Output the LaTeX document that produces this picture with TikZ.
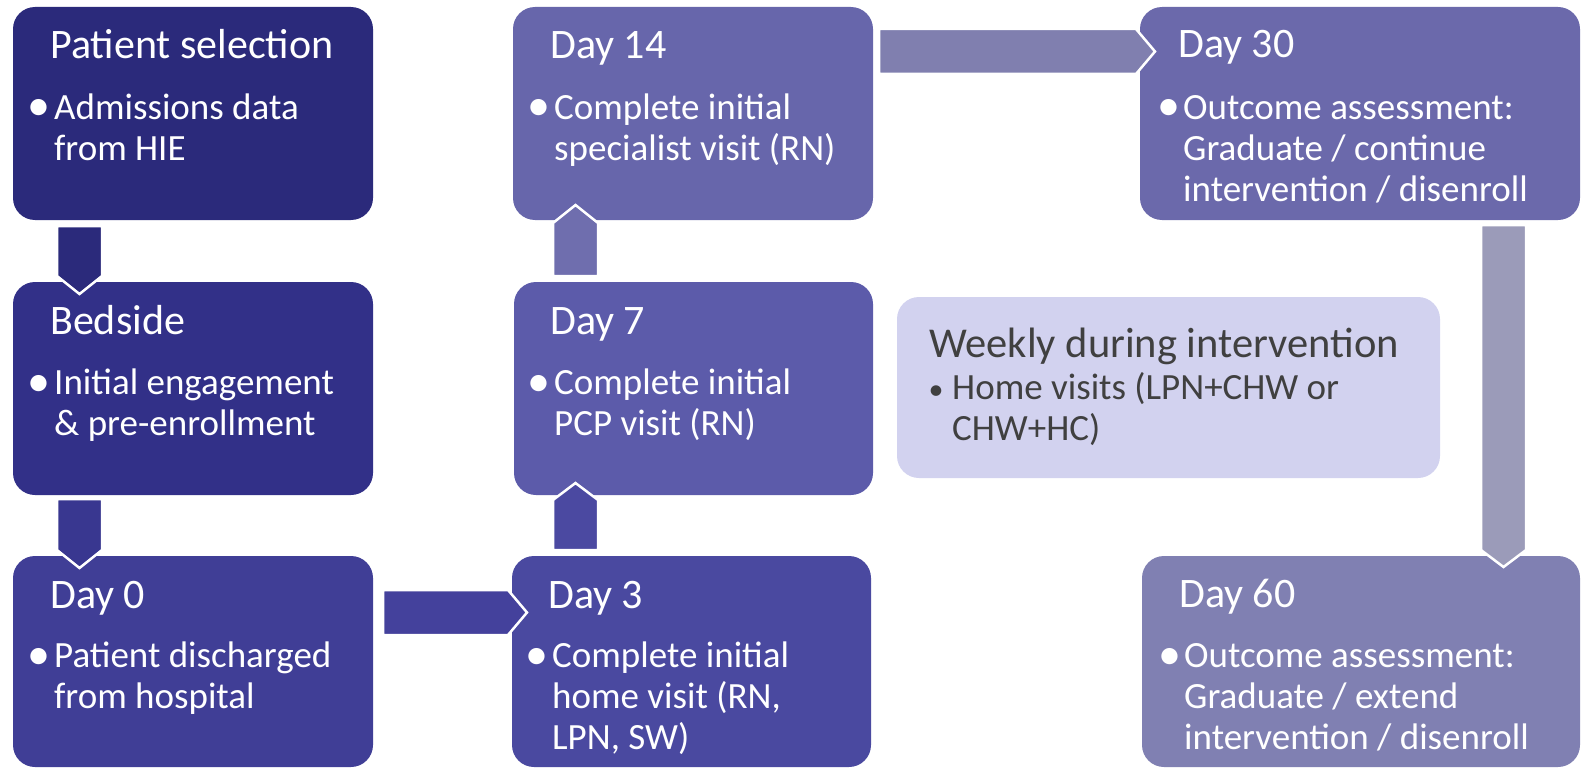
\documentclass[tikz,border=0pt]{standalone}
\usepackage{fontspec}
\setmainfont{Carlito}
\usetikzlibrary{calc}
\definecolor{cps}{HTML}{2B2A7B}
\definecolor{cbed}{HTML}{323088}
\definecolor{cdz}{HTML}{403E96}
\definecolor{cdt}{HTML}{4A49A0}
\definecolor{cds}{HTML}{5C5BAA}
\definecolor{cdf}{HTML}{6766AB}
\definecolor{cdth}{HTML}{6B69AB}
\definecolor{cdsx}{HTML}{8080B2}
\definecolor{cwk}{HTML}{D2D2EF}
\definecolor{cwt}{HTML}{404040}
\definecolor{aone}{HTML}{2B2A7B}
\definecolor{atwo}{HTML}{393790}
\definecolor{athree}{HTML}{44419C}
\definecolor{afour}{HTML}{4B49A1}
\definecolor{afive}{HTML}{6F6EAE}
\definecolor{asix}{HTML}{807FAF}
\definecolor{aseven}{HTML}{9B9BB9}
\tikzset{
  stepbox/.style={rectangle, rounded corners=22pt, inner sep=0pt, outer sep=0pt, draw=none},
  ttl/.style={anchor=base west, inner sep=0pt, text=white, font=\fontsize{42}{50}\selectfont},
  bul/.style={anchor=base west, inner sep=0pt, text=white, font=\fontsize{37}{41}\selectfont},
  dot/.style={anchor=base, inner sep=0pt, text=white, font=\fontsize{46}{50}\selectfont},
  blk/.style={draw=white, line width=2.5pt, line join=miter},
}
\newcommand\lines[1]{\parbox[t]{420pt}{\raggedright #1}}
\begin{document}
\begin{tikzpicture}[x=1pt,y=-1pt]
\useasboundingbox (0,0) rectangle (1583,768);
% boxes
\node[stepbox, fill=cps, minimum width=360pt, minimum height=213pt] (ps) at (193,113.5) {};
\node[stepbox, fill=cbed, minimum width=360pt, minimum height=213pt] (bed) at (193,388.5) {};
\node[stepbox, fill=cdz, minimum width=360pt, minimum height=211pt] (dz) at (193,661.5) {};
\node[stepbox, fill=cdt, minimum width=359pt, minimum height=211pt] (dt) at (691.5,661.5) {};
\node[stepbox, fill=cds, minimum width=359pt, minimum height=213pt] (ds) at (693.5,388.5) {};
\node[stepbox, fill=cdf, minimum width=360pt, minimum height=213pt] (df) at (693,113.5) {};
\node[stepbox, fill=cdth, minimum width=440pt, minimum height=213pt] (dth) at (1360,113.5) {};
\node[stepbox, fill=cdsx, minimum width=438pt, minimum height=211pt] (dsx) at (1361,661.5) {};
\node[stepbox, fill=cwk, minimum width=543pt, minimum height=181pt] (wk) at (1168.5,387.5) {};
% texts
\node[ttl] (psT) at ($(ps.north west)+(37,52)$) {Patient selection};
\node[dot] (psD) at ($(ps.north west)+(26,114)$) {•};
\node[bul] (psB) at ($(ps.north west)+(41,112)$) {\lines{Admissions data\\from HIE}};
\node[ttl] (bedT) at ($(bed.north west)+(37,52)$) {Bedside};
\node[dot] (bedD) at ($(bed.north west)+(26,114)$) {•};
\node[bul] (bedB) at ($(bed.north west)+(41,112)$) {\lines{Initial engagement\\\&~pre-enrollment}};
\node[ttl] (dzT) at ($(dz.north west)+(37,52)$) {Day 0};
\node[dot] (dzD) at ($(dz.north west)+(26,113)$) {•};
\node[bul] (dzB) at ($(dz.north west)+(41,111)$) {\lines{Patient discharged\\from hospital}};
\node[ttl] (dtT) at ($(dt.north west)+(36,52)$) {Day 3};
\node[dot] (dtD) at ($(dt.north west)+(25,113)$) {•};
\node[bul] (dtB) at ($(dt.north west)+(40,111)$) {\lines{Complete initial\\home visit (RN,\\LPN, SW)}};
\node[ttl] (dsT) at ($(ds.north west)+(36,52)$) {Day 7};
\node[dot] (dsD) at ($(ds.north west)+(25,114)$) {•};
\node[bul] (dsB) at ($(ds.north west)+(40,112)$) {\lines{Complete initial\\PCP visit (RN)}};
\node[ttl] (dfT) at ($(df.north west)+(37,52)$) {Day 14};
\node[dot] (dfD) at ($(df.north west)+(26,114)$) {•};
\node[bul] (dfB) at ($(df.north west)+(41,112)$) {\lines{Complete initial\\specialist visit (RN)}};
\node[ttl] (dthT) at ($(dth.north west)+(38,51)$) {Day 30};
\node[dot] (dthD) at ($(dth.north west)+(29,114)$) {•};
\node[bul] (dthB) at ($(dth.north west)+(43,112)$) {\lines{Outcome assessment:\\Graduate / continue\\intervention / disenroll}};
\node[ttl] (dsxT) at ($(dsx.north west)+(37,51)$) {Day 60};
\node[dot] (dsxD) at ($(dsx.north west)+(28,113)$) {•};
\node[bul] (dsxB) at ($(dsx.north west)+(42,111)$) {\lines{Outcome assessment:\\Graduate / extend\\intervention / disenroll}};
\node[ttl, text=cwt, font=\fontsize{42.5}{50}\selectfont] (wkT) at ($(wk.north west)+(32,60)$) {Weekly during intervention};
\node[dot, text=cwt, font=\fontsize{30}{40}\selectfont] (wkD) at ($(wk.north west)+(39,102)$) {•};
\node[bul, text=cwt] (wkB) at ($(wk.north west)+(55,102)$) {\lines{Home visits (LPN+CHW or\\CHW+HC)}};
% block arrows
\filldraw[blk, fill=aone] ($(ps.south west)+(44,6)$) -- ($(ps.south west)+(89,6)$)
  -- ($(bed.north west)+(89,-6)$) -- ($(bed.north west)+(66.5,12)$) -- ($(bed.north west)+(44,-6)$) -- cycle;
\filldraw[blk, fill=atwo] ($(bed.south west)+(44,4)$) -- ($(bed.south west)+(89,4)$)
  -- ($(dz.north west)+(89,-6)$) -- ($(dz.north west)+(66.5,12)$) -- ($(dz.north west)+(44,-6)$) -- cycle;
\filldraw[blk, fill=athree] ($(dz.north east)+(10,34)$) -- ($(dt.north west)+(-4,34)$)
  -- ($(dt.north west)+(15,56.5)$) -- ($(dt.north west)+(-4,79)$) -- ($(dz.north east)+(10,79)$) -- cycle;
\filldraw[blk, fill=afour] ($(dt.north west)+(41,-6)$) -- ($(dt.north west)+(86,-6)$)
  -- ($(ds.south west)+(84,5)$) -- ($(ds.south west)+(61.5,-12)$) -- ($(ds.south west)+(39,5)$) -- cycle;
\filldraw[blk, fill=afive] ($(ds.north west)+(39,-6)$) -- ($(ds.north west)+(84,-6)$)
  -- ($(df.south west)+(85,3)$) -- ($(df.south west)+(62.5,-15)$) -- ($(df.south west)+(40,3)$) -- cycle;
\filldraw[blk, fill=asix] ($(df.north east)+(6,22)$) -- ($(dth.north west)+(-4,22)$)
  -- ($(dth.north west)+(15,44.5)$) -- ($(dth.north west)+(-4,67)$) -- ($(df.north east)+(6,67)$) -- cycle;
\filldraw[blk, fill=aseven] ($(dth.south west)+(341,5)$) -- ($(dth.south west)+(386,5)$)
  -- ($(dsx.north west)+(384,-6)$) -- ($(dsx.north west)+(361.5,11)$) -- ($(dsx.north west)+(339,-6)$) -- cycle;
\end{tikzpicture}
\end{document}
